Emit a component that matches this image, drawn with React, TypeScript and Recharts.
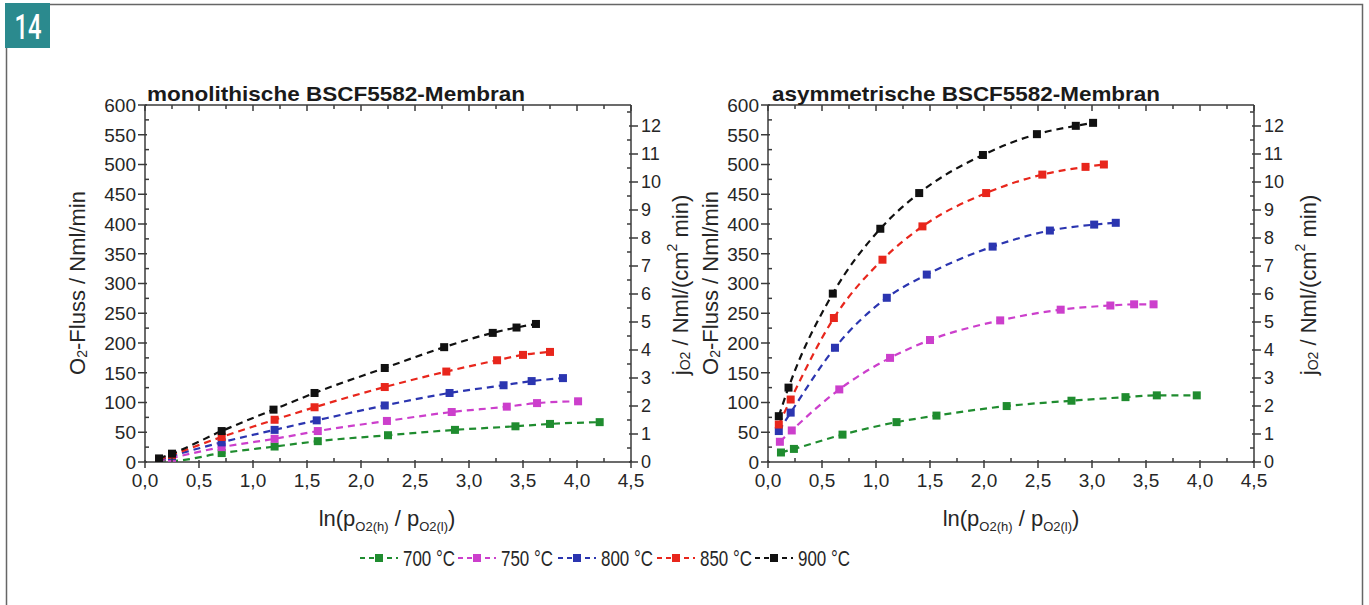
import React from 'react';
import { LineChart, Line, XAxis, YAxis } from 'recharts';

// ---------- data ----------
const temps = ['700 °C', '750 °C', '800 °C', '850 °C', '900 °C'];
const colors = ['#1f8c2f', '#cc3fcc', '#2b35b0', '#e8261c', '#111111'];

// monolithic membrane (left panel)
const monoX700 = [0.13, 0.25, 0.71, 1.2, 1.6, 2.25, 2.87, 3.43, 3.75, 4.21];
const monoY700 = [3, 2, 15, 26, 35, 45, 54, 60, 64, 67];
const monoX750 = [0.13, 0.25, 0.71, 1.2, 1.6, 2.24, 2.84, 3.35, 3.63, 4.01];
const monoY750 = [2, 7, 25, 39, 52, 69, 84, 93, 99, 102];
const monoX800 = [0.13, 0.25, 0.71, 1.2, 1.59, 2.22, 2.82, 3.32, 3.58, 3.87];
const monoY800 = [3, 10, 33, 54, 70, 95, 116, 129, 136, 141];
const monoX850 = [0.13, 0.25, 0.71, 1.2, 1.57, 2.22, 2.79, 3.26, 3.5, 3.75];
const monoY850 = [4, 12, 42, 71, 92, 126, 152, 171, 180, 185];
const monoX900 = [0.13, 0.25, 0.71, 1.19, 1.57, 2.22, 2.77, 3.22, 3.44, 3.62];
const monoY900 = [6, 14, 52, 88, 116, 158, 193, 217, 226, 232];

// asymmetric membrane (right panel)
const asymX700 = [0.12, 0.24, 0.69, 1.19, 1.56, 2.21, 2.81, 3.31, 3.6, 3.97];
const asymY700 = [16, 22, 46, 67, 78, 94, 103, 109, 112, 112];
const asymX750 = [0.11, 0.22, 0.66, 1.13, 1.5, 2.15, 2.71, 3.17, 3.39, 3.57];
const asymY750 = [34, 53, 122, 175, 205, 238, 256, 263, 265, 265];
const asymX800 = [0.1, 0.21, 0.62, 1.1, 1.47, 2.08, 2.61, 3.02, 3.22];
const asymY800 = [52, 83, 192, 276, 315, 362, 389, 399, 402];
const asymX850 = [0.1, 0.21, 0.61, 1.06, 1.43, 2.02, 2.54, 2.94, 3.11];
const asymY850 = [63, 105, 242, 340, 396, 452, 483, 496, 500];
const asymX900 = [0.1, 0.19, 0.6, 1.04, 1.4, 1.99, 2.49, 2.85, 3.01];
const asymY900 = [77, 125, 283, 392, 452, 516, 551, 565, 570];

// axis ticks
const xMajor = [0, 0.5, 1, 1.5, 2, 2.5, 3, 3.5, 4, 4.5];
const xMinor = [0.25, 0.75, 1.25, 1.75, 2.25, 2.75, 3.25, 3.75, 4.25];
const yMajor = [0, 50, 100, 150, 200, 250, 300, 350, 400, 450, 500, 550, 600];
const yMinor = [25, 75, 125, 175, 225, 275, 325, 375, 425, 475, 525, 575];
const rMajor = [0, 1, 2, 3, 4, 5, 6, 7, 8, 9, 10, 11, 12];
const rMinor = [0.5, 1.5, 2.5, 3.5, 4.5, 5.5, 6.5, 7.5, 8.5, 9.5, 10.5, 11.5, 12.5];

const titles = ['monolithische BSCF5582-Membran', 'asymmetrische BSCF5582-Membran'];

// ---------- helpers ----------
const zip = (xs: number[], ys: number[]) => xs.map((x, i) => ({ x, y: ys[i] }));
const monoSeries = [
  zip(monoX700, monoY700), zip(monoX750, monoY750), zip(monoX800, monoY800),
  zip(monoX850, monoY850), zip(monoX900, monoY900),
];
const asymSeries = [
  zip(asymX700, asymY700), zip(asymX750, asymY750), zip(asymX800, asymY800),
  zip(asymX850, asymY850), zip(asymX900, asymY900),
];
const xTicks = [...xMajor, ...xMinor].sort((a, b) => a - b);
const yTicks = [...yMajor, ...yMinor].sort((a, b) => a - b);
const rTicks = [...rMajor, ...rMinor].sort((a, b) => a - b);

const AX = '#3a3a3a';
const TXT = '#262626';
const FONT = '"Liberation Sans", Arial, sans-serif';
const isIn = (arr: number[], v: number) => arr.some((a) => Math.abs(a - v) < 1e-6);
const fmt = (v: number) => v.toFixed(1).replace('.', ',');

const BottomTick = (p: any) => {
  const { x, y, payload } = p;
  const major = isIn(xMajor, payload.value);
  return (
    <g>
      {major ? (
        <line x1={x} y1={y - 2} x2={x} y2={y + 6} stroke={AX} strokeWidth={1.5} />
      ) : (
        <line x1={x} y1={y} x2={x} y2={y - 4} stroke={AX} strokeWidth={1.5} />
      )}
      {major && (
        <text x={x} y={y + 25} textAnchor="middle" fontSize={19} fill={TXT} fontFamily={FONT}>
          {fmt(payload.value)}
        </text>
      )}
    </g>
  );
};

const TopTick = (p: any) => {
  const { x, y, payload } = p;
  const major = isIn(xMajor, payload.value);
  return <line x1={x} y1={y} x2={x} y2={y + (major ? 6 : 4)} stroke={AX} strokeWidth={1.5} />;
};

const LeftTick = (p: any) => {
  const { x, y, payload } = p;
  const major = isIn(yMajor, payload.value);
  return (
    <g>
      {major ? (
        <line x1={x + 2} y1={y} x2={x - 7} y2={y} stroke={AX} strokeWidth={1.5} />
      ) : (
        <line x1={x} y1={y} x2={x + 4} y2={y} stroke={AX} strokeWidth={1.5} />
      )}
      {major && (
        <text x={x - 9} y={y} dy="0.36em" textAnchor="end" fontSize={19} fill={TXT} fontFamily={FONT}>
          {payload.value}
        </text>
      )}
    </g>
  );
};

const RightTick = (p: any) => {
  const { x, y, payload } = p;
  const major = isIn(rMajor, payload.value);
  return (
    <g>
      {major ? (
        <line x1={x - 2} y1={y} x2={x + 7} y2={y} stroke={AX} strokeWidth={1.5} />
      ) : (
        <line x1={x} y1={y} x2={x - 4} y2={y} stroke={AX} strokeWidth={1.5} />
      )}
      {major && (
        <text x={x + 10} y={y} dy="0.36em" textAnchor="start" fontSize={18} fill={TXT} fontFamily={FONT}>
          {payload.value}
        </text>
      )}
    </g>
  );
};

const makeDot = (color: string) => (p: any) => {
  const { cx, cy, index } = p;
  if (cx == null || cy == null) return <g key={`n${index}`} />;
  return <rect key={`d${index}`} x={cx - 4} y={cy - 4} width={8} height={8} fill={color} />;
};

const axisLine = { stroke: AX, strokeWidth: 1.5 };

function Panel({ left, series }: { left: number; series: { x: number; y: number }[][] }) {
  return (
    <div style={{ position: 'absolute', left, top: 95 }}>
      <LineChart width={576} height={397} margin={{ top: 0, right: 0, bottom: 0, left: 0 }}>
        <XAxis xAxisId="b" type="number" dataKey="x" domain={[0, 4.5]} ticks={xTicks} interval={0}
          tick={<BottomTick />} tickLine={false} tickSize={0} tickMargin={0} height={30}
          axisLine={axisLine} allowDataOverflow />
        <XAxis xAxisId="t" orientation="top" type="number" dataKey="x" domain={[0, 4.5]} ticks={xTicks}
          interval={0} tick={<TopTick />} tickLine={false} tickSize={0} tickMargin={0} height={10}
          axisLine={axisLine} allowDataOverflow />
        <YAxis yAxisId="l" type="number" domain={[0, 600]} ticks={yTicks} interval={0}
          tick={<LeftTick />} tickLine={false} tickSize={0} tickMargin={0} width={50}
          axisLine={axisLine} allowDataOverflow />
        <YAxis yAxisId="r" orientation="right" type="number" domain={[0, 12.75]} ticks={rTicks}
          interval={0} tick={<RightTick />} tickLine={false} tickSize={0} tickMargin={0} width={40}
          axisLine={axisLine} allowDataOverflow />
        {series.map((d, i) => (
          <Line key={temps[i]} xAxisId="b" yAxisId="l" data={d} dataKey="y" name={temps[i]}
            type="monotone" stroke={colors[i]} strokeWidth={2.2} strokeDasharray="7 5"
            dot={makeDot(colors[i])} activeDot={false} isAnimationActive={false} />
        ))}
      </LineChart>
    </div>
  );
}

const YLabelO2 = ({ cx, cy }: { cx: number; cy: number }) => (
  <text transform={`translate(${cx},${cy}) rotate(-90)`} textAnchor="middle" dominantBaseline="central"
    fontSize={22} fill={TXT} fontFamily={FONT}>
    O<tspan fontSize={14} dy={5}>2</tspan>
    <tspan dy={-5}>-Fluss / Nml/min</tspan>
  </text>
);

const YLabelJ = ({ cx, cy }: { cx: number; cy: number }) => (
  <text transform={`translate(${cx},${cy}) rotate(-90)`} textAnchor="middle" dominantBaseline="central"
    fontSize={22} fill={TXT} fontFamily={FONT}>
    j<tspan fontSize={14} dy={5}>O2</tspan>
    <tspan dy={-5}> / Nml/(cm</tspan>
    <tspan fontSize={14} dy={-8}>2</tspan>
    <tspan dy={8}> min)</tspan>
  </text>
);

const XLabel = ({ cx }: { cx: number }) => (
  <text x={cx} y={526} textAnchor="middle" fontSize={22} fill={TXT} fontFamily={FONT}>
    ln(p<tspan fontSize={13} dy={5}>O2(h)</tspan>
    <tspan dy={-5}> / p</tspan>
    <tspan fontSize={13} dy={5}>O2(l)</tspan>
    <tspan dy={-5}>)</tspan>
  </text>
);

const legendX = [360, 458, 558, 657, 755];

export default function App() {
  return (
    <div style={{ position: 'absolute', left: 0, top: 0, width: 1369, height: 605, background: '#fff', fontFamily: FONT }}>
      <Panel left={95} series={monoSeries} />
      <Panel left={718} series={asymSeries} />
      <svg width={1369} height={605} style={{ position: 'absolute', left: 0, top: 0, pointerEvents: 'none' }}>
        {/* frame */}
        <path d="M6.5 48 V605 M50 4.5 H1362.5 V605" stroke="#666" strokeWidth={1.5} fill="none" />
        <rect x={5} y={3} width={45} height={45} fill="#2b8a8e" />
        <text x={28} y={39} textAnchor="middle" fontSize={35} fill="#fff" fontFamily="Roboto, sans-serif"
          fontWeight={500} textLength={27} lengthAdjust="spacingAndGlyphs">14</text>
        {/* titles */}
        <text x={147} y={101} fontSize={21} fontWeight="bold" fill="#1a1a1a" textLength={378}
          lengthAdjust="spacingAndGlyphs" fontFamily={FONT}>{titles[0]}</text>
        <text x={772} y={101} fontSize={21} fontWeight="bold" fill="#1a1a1a" textLength={388}
          lengthAdjust="spacingAndGlyphs" fontFamily={FONT}>{titles[1]}</text>
        {/* axis labels */}
        <YLabelO2 cx={77} cy={283} />
        <YLabelJ cx={680} cy={285} />
        <YLabelO2 cx={710} cy={283} />
        <YLabelJ cx={1308} cy={285} />
        <XLabel cx={387} />
        <XLabel cx={1011} />
        {/* legend */}
        {temps.map((t, i) => (
          <g key={t}>
            <line x1={legendX[i]} y1={558} x2={legendX[i] + 38} y2={558} stroke={colors[i]}
              strokeWidth={2.2} strokeDasharray="5 4" />
            <rect x={legendX[i] + 15} y={554} width={8} height={8} fill={colors[i]} />
            <text x={legendX[i] + 43} y={566} fontSize={22} fill={TXT} fontFamily={FONT}
              textLength={52} lengthAdjust="spacingAndGlyphs">{t}</text>
          </g>
        ))}
      </svg>
    </div>
  );
}
